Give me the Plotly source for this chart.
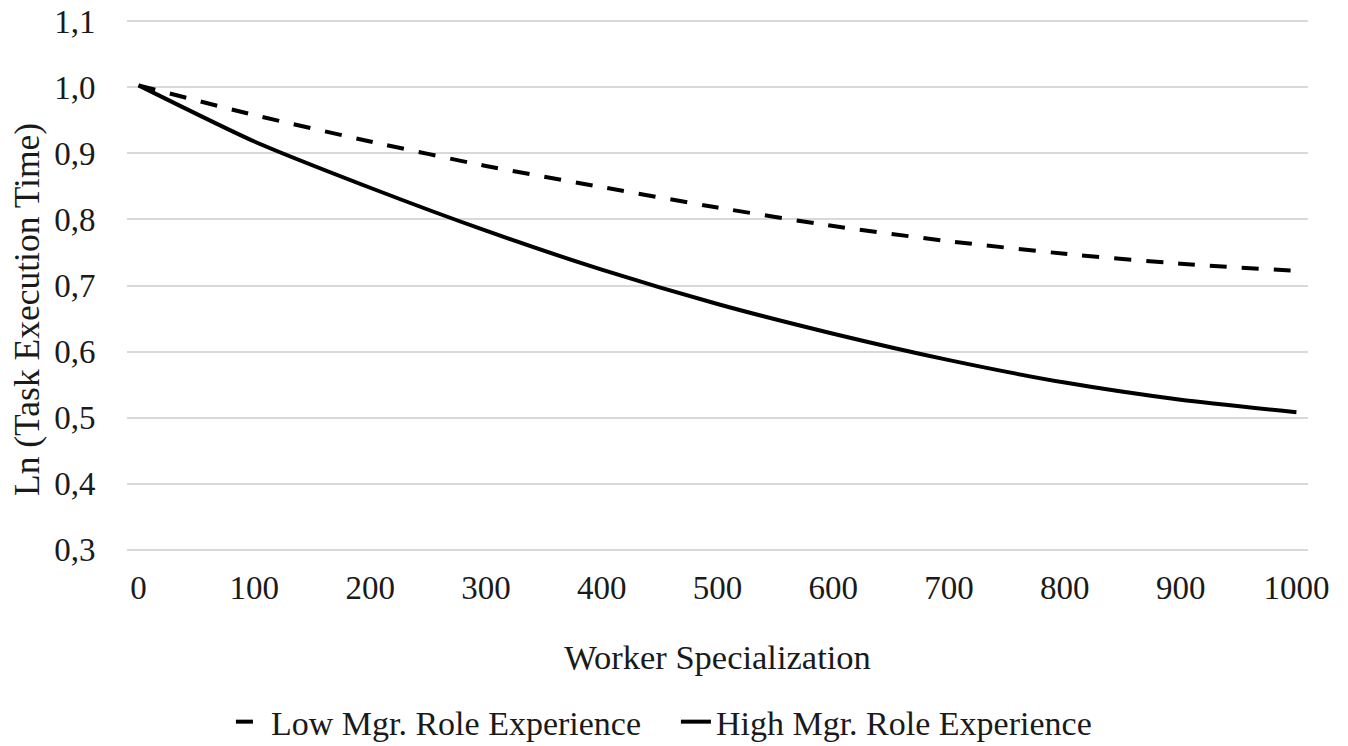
import plotly.graph_objects as go

x_vals = [0, 100, 200, 300, 400, 500, 600, 700, 800, 900, 1000]
low_mgr = [1.003, 0.958, 0.918, 0.881, 0.849, 0.818, 0.790, 0.767, 0.748, 0.733, 0.722]
high_mgr = [1.003, 0.918, 0.848, 0.783, 0.724, 0.672, 0.627, 0.587, 0.553, 0.527, 0.508]
x_ticks = [0, 100, 200, 300, 400, 500, 600, 700, 800, 900, 1000]
y_ticks = [0.3, 0.4, 0.5, 0.6, 0.7, 0.8, 0.9, 1.0, 1.1]

FONT = "'Liberation Serif', 'Times New Roman', 'DejaVu Serif', serif"
TXT = "#1a1a1a"

fig = go.Figure()
fig.add_trace(go.Scatter(
    x=x_vals, y=low_mgr, mode="lines", name="Low Mgr. Role Experience",
    line=dict(color="black", width=4, dash="17px,15px", shape="spline", smoothing=0.6),
))
fig.add_trace(go.Scatter(
    x=x_vals, y=high_mgr, mode="lines", name="High Mgr. Role Experience",
    line=dict(color="black", width=4, shape="spline", smoothing=0.6),
))

fig.add_annotation(
    text="Ln (Task Execution Time)", textangle=-90,
    xref="paper", yref="paper", x=-0.0847, y=0.456,
    xanchor="center", yanchor="middle", showarrow=False,
    font=dict(family=FONT, size=35.5, color=TXT),
)

fig.update_layout(
    width=1348, height=746,
    margin=dict(l=127, r=40, t=18, b=193, autoexpand=False),
    paper_bgcolor="white", plot_bgcolor="white",
    separators=",.",
    font=dict(family=FONT, size=33, color=TXT),
    showlegend=True,
    legend=dict(
        orientation="h", x=0.088, xanchor="left", y=-0.316, yanchor="middle",
        font=dict(family=FONT, size=34, color=TXT),
        itemwidth=30, entrywidth=400, bgcolor="rgba(0,0,0,0)",
    ),
    xaxis=dict(
        range=[-10, 1010], tickmode="array", tickvals=x_ticks,
        showgrid=False, zeroline=False, showline=False, automargin=False,
        ticks="outside", ticklen=5, tickcolor="rgba(0,0,0,0)",
        ticklabeloverflow="allow",
        tickfont=dict(family=FONT, size=33, color=TXT),
        title=dict(text="Worker Specialization", font=dict(family=FONT, size=34.5, color=TXT), standoff=40),
    ),
    yaxis=dict(
        range=[0.295, 1.105], tickmode="array", tickvals=y_ticks, tickformat=".1f",
        showgrid=True, gridcolor="#d9d9d9", gridwidth=1.5,
        zeroline=False, showline=False, automargin=False,
        ticks="outside", ticklen=24, tickcolor="rgba(0,0,0,0)",
        ticklabeloverflow="allow",
        tickfont=dict(family=FONT, size=33, color=TXT),
    ),
)

fig.write_html(
    "out.html",
    config={"displayModeBar": False},
    post_script="document.body.style.margin='0';document.body.style.overflow='hidden';",
)
